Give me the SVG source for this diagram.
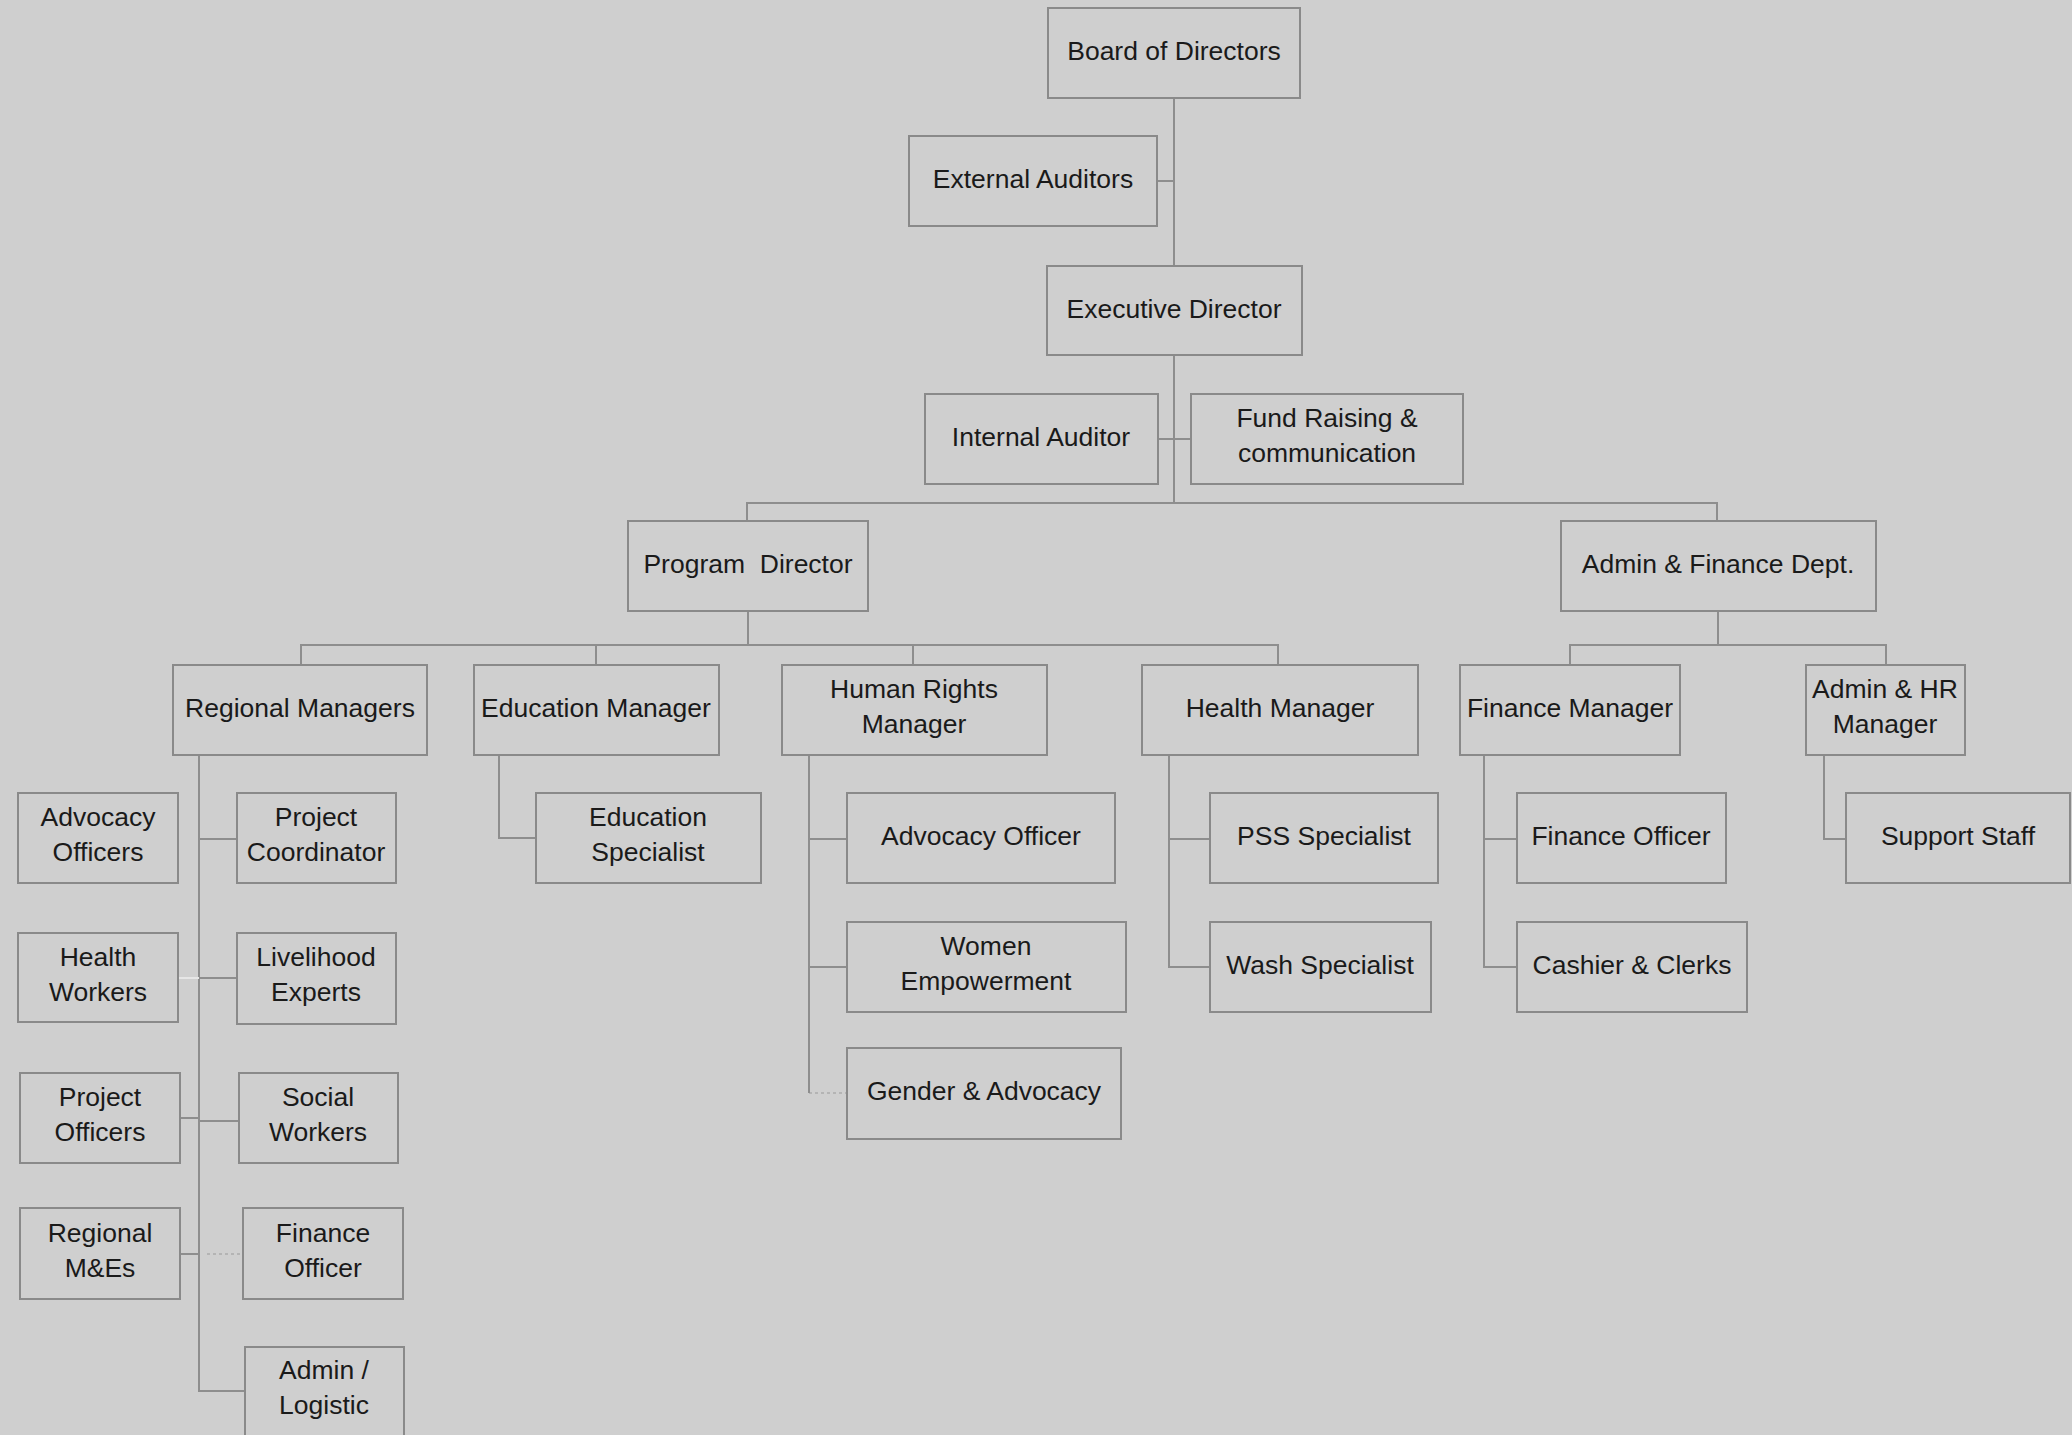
<svg xmlns="http://www.w3.org/2000/svg" width="2072" height="1435" viewBox="0 0 2072 1435">
<style>
.n rect{fill:#cfcfcf;stroke:#8a8a8a;stroke-width:2}
.n text{font-family:"Liberation Sans",Arial,sans-serif;font-size:26.5px;fill:#1a1a1a;text-anchor:middle;transform:translateY(-2px)}
.c path{fill:none;stroke:#8e8e8e;stroke-width:2}
.c path.f{stroke:#b4b4b4;stroke-dasharray:3 3}
.c path.w{stroke:#e6e6e6}
</style>
<rect x="0" y="0" width="2072" height="1435" fill="#cfcfcf"/>
<g class="c" id="connectors">
<path d="M1174 98V503M1157 181H1174M1158 439H1191"/>
<path d="M747 521V503H1717V521"/>
<path d="M748 611V645M301 665V645H1278V665M596 645V665M913 645V665"/>
<path d="M1718 611V645M1570 665V645H1886V665"/>
<path d="M199 755V1391H245M199 839H237M199 978H237M199 1121H239M180 1118H199M180 1254H199"/>
<path class="w" d="M178 978H199"/>
<path class="f" d="M207 1254H243M809 1093H847"/>
<path d="M499 755V838H536"/>
<path d="M809 755V1093M809 839H847M809 967H847"/>
<path d="M1169 755V967H1210M1169 839H1210"/>
<path d="M1484 755V967H1517M1484 839H1517"/>
<path d="M1824 755V839H1846"/>
</g>
<g class="n" id="board"><rect x="1048" y="8" width="252" height="90"/><text x="1174" y="62">Board of Directors</text></g>
<g class="n" id="external-auditors"><rect x="909" y="136" width="248" height="90"/><text x="1033" y="190">External Auditors</text></g>
<g class="n" id="executive-director"><rect x="1047" y="266" width="255" height="89"/><text x="1174" y="320">Executive Director</text></g>
<g class="n" id="internal-auditor"><rect x="925" y="394" width="233" height="90"/><text x="1041" y="448">Internal Auditor</text></g>
<g class="n" id="fund-raising"><rect x="1191" y="394" width="272" height="90"/><text x="1327" y="429">Fund Raising &amp;</text><text x="1327" y="464">communication</text></g>
<g class="n" id="program-director"><rect x="628" y="521" width="240" height="90"/><text x="748" y="575" style="white-space:pre">Program  Director</text></g>
<g class="n" id="admin-finance"><rect x="1561" y="521" width="315" height="90"/><text x="1718" y="575">Admin &amp; Finance Dept.</text></g>
<g class="n" id="regional-managers"><rect x="173" y="665" width="254" height="90"/><text x="300" y="719">Regional Managers</text></g>
<g class="n" id="education-manager"><rect x="474" y="665" width="245" height="90"/><text x="596" y="719">Education Manager</text></g>
<g class="n" id="human-rights-manager"><rect x="782" y="665" width="265" height="90"/><text x="914" y="700">Human Rights</text><text x="914" y="735">Manager</text></g>
<g class="n" id="health-manager"><rect x="1142" y="665" width="276" height="90"/><text x="1280" y="719">Health Manager</text></g>
<g class="n" id="finance-manager"><rect x="1460" y="665" width="220" height="90"/><text x="1570" y="719">Finance Manager</text></g>
<g class="n" id="admin-hr-manager"><rect x="1806" y="665" width="159" height="90"/><text x="1885" y="700">Admin &amp; HR</text><text x="1885" y="735">Manager</text></g>
<g class="n" id="advocacy-officers"><rect x="18" y="793" width="160" height="90"/><text x="98" y="828">Advocacy</text><text x="98" y="863">Officers</text></g>
<g class="n" id="project-coordinator"><rect x="237" y="793" width="159" height="90"/><text x="316" y="828">Project</text><text x="316" y="863">Coordinator</text></g>
<g class="n" id="health-workers"><rect x="18" y="933" width="160" height="89"/><text x="98" y="968">Health</text><text x="98" y="1003">Workers</text></g>
<g class="n" id="livelihood-experts"><rect x="237" y="933" width="159" height="91"/><text x="316" y="968">Livelihood</text><text x="316" y="1003">Experts</text></g>
<g class="n" id="project-officers"><rect x="20" y="1073" width="160" height="90"/><text x="100" y="1108">Project</text><text x="100" y="1143">Officers</text></g>
<g class="n" id="social-workers"><rect x="239" y="1073" width="159" height="90"/><text x="318" y="1108">Social</text><text x="318" y="1143">Workers</text></g>
<g class="n" id="regional-mes"><rect x="20" y="1208" width="160" height="91"/><text x="100" y="1244">Regional</text><text x="100" y="1279">M&amp;Es</text></g>
<g class="n" id="rm-finance-officer"><rect x="243" y="1208" width="160" height="91"/><text x="323" y="1244">Finance</text><text x="323" y="1279">Officer</text></g>
<g class="n" id="admin-logistic"><rect x="245" y="1347" width="159" height="91"/><text x="324" y="1381">Admin /</text><text x="324" y="1416">Logistic</text></g>
<g class="n" id="education-specialist"><rect x="536" y="793" width="225" height="90"/><text x="648" y="828">Education</text><text x="648" y="863">Specialist</text></g>
<g class="n" id="advocacy-officer"><rect x="847" y="793" width="268" height="90"/><text x="981" y="847">Advocacy Officer</text></g>
<g class="n" id="women-empowerment"><rect x="847" y="922" width="279" height="90"/><text x="986" y="957">Women</text><text x="986" y="992">Empowerment</text></g>
<g class="n" id="gender-advocacy"><rect x="847" y="1048" width="274" height="91"/><text x="984" y="1102">Gender &amp; Advocacy</text></g>
<g class="n" id="pss-specialist"><rect x="1210" y="793" width="228" height="90"/><text x="1324" y="847">PSS Specialist</text></g>
<g class="n" id="wash-specialist"><rect x="1210" y="922" width="221" height="90"/><text x="1320" y="976">Wash Specialist</text></g>
<g class="n" id="af-finance-officer"><rect x="1517" y="793" width="209" height="90"/><text x="1621" y="847">Finance Officer</text></g>
<g class="n" id="cashier-clerks"><rect x="1517" y="922" width="230" height="90"/><text x="1632" y="976">Cashier &amp; Clerks</text></g>
<g class="n" id="support-staff"><rect x="1846" y="793" width="224" height="90"/><text x="1958" y="847">Support Staff</text></g>
</svg>
